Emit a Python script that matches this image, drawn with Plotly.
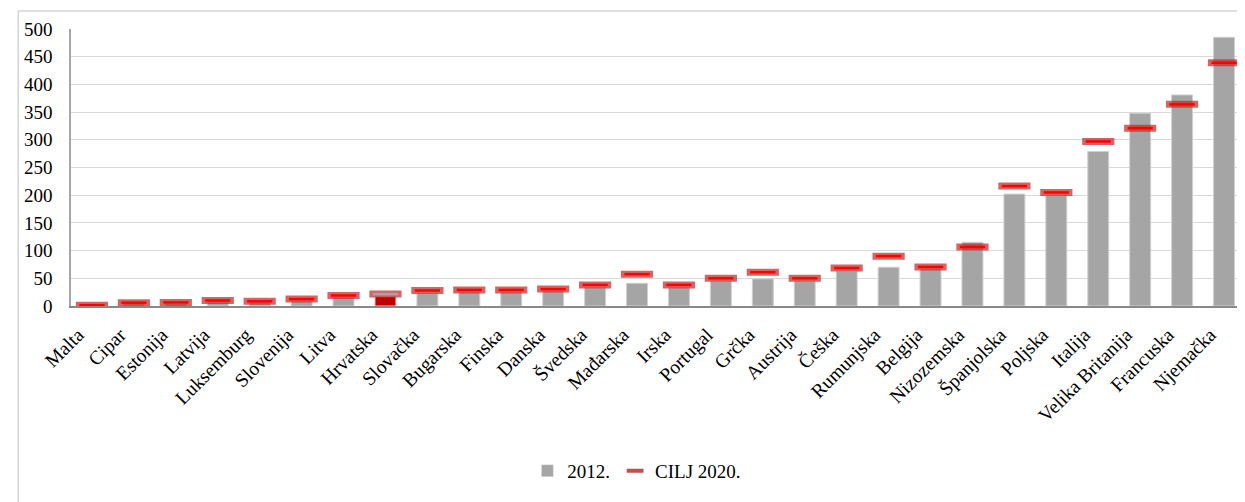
import plotly.graph_objects as go

countries = ['Malta', 'Cipar', 'Estonija', 'Latvija', 'Luksemburg', 'Slovenija', 'Litva',
             'Hrvatska', 'Slovačka', 'Bugarska', 'Finska', 'Danska', 'Švedska', 'Mađarska',
             'Irska', 'Portugal', 'Grčka', 'Austrija', 'Češka', 'Rumunjska', 'Belgija',
             'Nizozemska', 'Španjolska', 'Poljska', 'Italija', 'Velika Britanija',
             'Francuska', 'Njemačka']
val_2012 = [0.5, 4, 4, 7, 6, 9, 16, 17, 23, 25, 25, 27, 33, 41, 33, 45, 49, 45, 63, 70, 67,
            115, 202, 200, 279, 348, 381, 485]
cilj_2020 = [1.5, 6, 6.5, 10, 8.5, 12.5, 19, 21.5, 28, 29, 29, 30.5, 38, 57.5, 38, 50, 61, 50,
             68.5, 90, 70.5, 106.5, 216.5, 205, 297, 321, 364, 439]

highlight = 'Hrvatska'
bar_colors = ['#C00000' if c == highlight else '#A5A5A5' for c in countries]
dash_colors = ['#A5A5A5' if c == highlight else '#FF0000' for c in countries]

font_serif = 'Liberation Serif'

fig = go.Figure()
fig.add_trace(go.Bar(
    x=countries, y=val_2012, name='2012.',
    marker=dict(color=bar_colors, line=dict(color='#D0D0D0', width=1)),
    showlegend=False,
))
# legend-only entries
fig.add_trace(go.Bar(x=[None], y=[None], name='2012.', marker=dict(color='#A5A5A5')))
fig.add_trace(go.Scatter(
    x=[None], y=[None], mode='markers', name='CILJ 2020.',
    marker=dict(symbol='line-ew', size=12, line=dict(color='#C0504D', width=4)),
))
# target dashes: translucent outer + bright inner line
fig.add_trace(go.Scatter(
    x=countries, y=cilj_2020, mode='markers', showlegend=False,
    marker=dict(symbol='line-ew', size=23, line=dict(color='rgba(200,40,40,0.72)', width=7)),
))
fig.add_trace(go.Scatter(
    x=countries, y=cilj_2020, mode='markers', showlegend=False,
    marker=dict(symbol='line-ew', size=18, line=dict(color=dash_colors, width=2.5)),
))

# page body has an 8px margin, so the figure is a bit smaller and shifted
fig.update_layout(
    width=1237, height=494,
    margin=dict(l=63, r=0, t=21, b=196, autoexpand=False),
    paper_bgcolor='white', plot_bgcolor='white',
    barmode='overlay', bargap=0.5,
    font=dict(family=font_serif, size=17, color='#000000'),
    legend=dict(orientation='h', x=0.482, xanchor='center', y=-0.595, yanchor='middle',
                font=dict(size=19), traceorder='normal', itemwidth=30),
    xaxis=dict(tickangle=-45, showgrid=False, showline=True, linecolor='#898989', linewidth=2,
               tickfont=dict(size=19.5), ticks='', ticklabelstandoff=-6,
               tickmode='array', tickvals=countries,
               ticktext=[c + '\u00a0' * 4 for c in countries],
               range=[-0.5, len(countries) - 0.5], automargin=False),
    yaxis=dict(range=[0, 500], dtick=50, showgrid=True, gridcolor='#D9D9D9', gridwidth=1,
               zeroline=False, showline=True, linecolor='#A6A6A6', linewidth=1.5,
               tickfont=dict(size=19), ticks='', ticklabelstandoff=13, automargin=False),
    shapes=[dict(type='rect', xref='paper', yref='paper', x0=-0.045, x1=1.1, y0=-0.8, y1=1.065,
                 line=dict(color='#BFBFBF', width=1), fillcolor='rgba(0,0,0,0)', layer='below')],
)

fig.write_html('out.html')
